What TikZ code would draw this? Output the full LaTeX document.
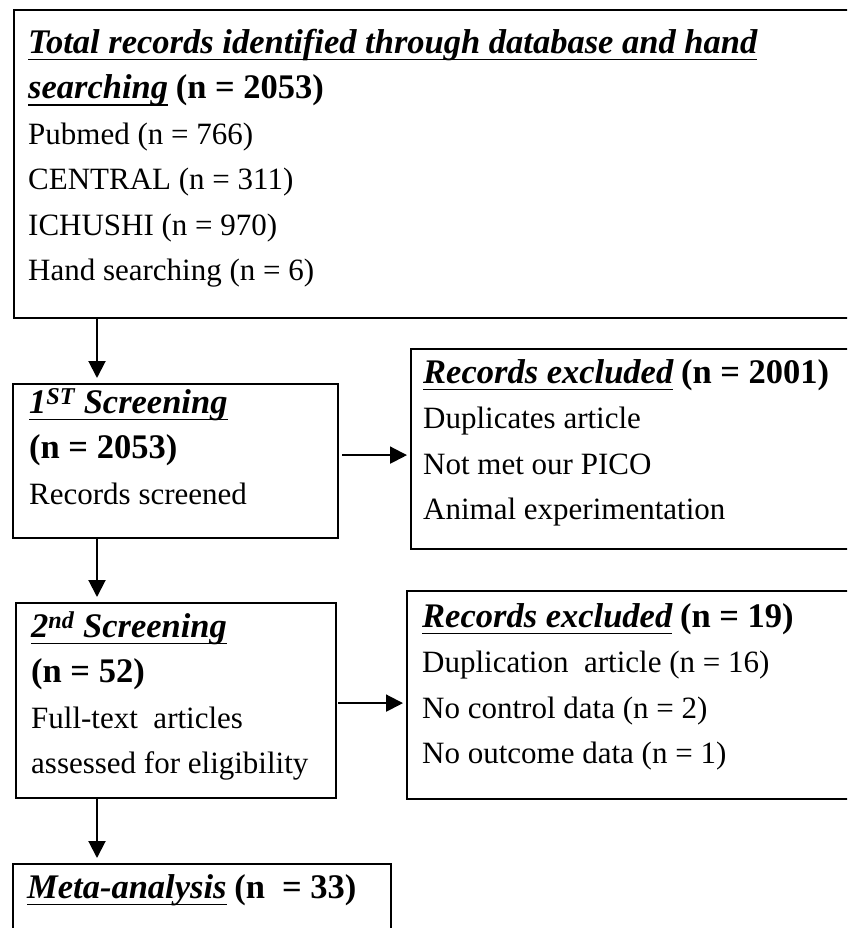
\documentclass[tikz,border=0pt]{standalone}
\usepackage{fontspec}
\setmainfont{Liberation Serif}
\usetikzlibrary{calc,arrows.meta}

\newcommand{\boxfont}{\fontsize{31}{45.5}\selectfont}
\newcommand{\headfont}{\fontsize{34.5}{45.5}\selectfont}
\newsavebox{\ulbox}
\newcommand{\ttl}[1]{\sbox{\ulbox}{\headfont\bfseries\itshape #1}%
    \rlap{\rule[-7.4pt]{\wd\ulbox}{1.9pt}}\usebox{\ulbox}}
\newcommand{\cnt}[1]{{\headfont\bfseries #1}}

\begin{document}
\begin{tikzpicture}[x=1pt,y=-1pt,
    box/.style={draw, line width=2.2pt, anchor=north west, inner sep=0pt},
    txt/.style={anchor=north west, inner sep=0pt, align=left, font=\boxfont},
    arr/.style={line width=2pt, -{Triangle[length=17pt,width=17pt]}}]
    \useasboundingbox (0,0) rectangle (847,928);
    \clip (0,0) rectangle (847,928);
    % boxes
    \node[box, minimum width=880pt, minimum height=308pt] (ident) at (13,9) {};
    \node[box, minimum width=325pt, minimum height=154pt] (scr1) at (12,383) {};
    \node[box, minimum width=470pt, minimum height=200pt] (excl1) at (410,348) {};
    \node[box, minimum width=320pt, minimum height=195pt] (scr2) at (15,602) {};
    \node[box, minimum width=474pt, minimum height=208pt] (excl2) at (406,590) {};
    \node[box, minimum width=378pt, minimum height=100pt] (meta) at (12,863) {};
    % texts
    \node[txt] (identtxt) at (28,21) {\strut\ttl{Total records identified through database and hand}\\
        \ttl{searching} \cnt{(n = 2053)}\\
        Pubmed (n = 766)\\
        CENTRAL (n = 311)\\
        ICHUSHI (n = 970)\\
        Hand searching (n = 6)};
    \node[txt] (scr1txt) at (29,381) {\strut\ttl{1\textsuperscript{ST} Screening}\\
        \cnt{(n = 2053)}\\
        Records screened};
    \node[txt] (excl1txt) at (423,351) {\strut\ttl{Records excluded} \cnt{(n = 2001)}\\
        Duplicates article\\
        Not met our PICO\\
        Animal experimentation};
    \node[txt] (scr2txt) at (31,605) {\strut\ttl{2\textsuperscript{nd} Screening}\\
        \cnt{(n = 52)}\\
        Full-text\ \ articles\\
        assessed for eligibility};
    \node[txt] (excl2txt) at (422,595) {\strut\ttl{Records excluded} \cnt{(n = 19)}\\
        Duplication\ \ article (n = 16)\\
        No control data (n = 2)\\
        No outcome data (n = 1)};
    \node[txt] (metatxt) at (27,866) {\strut\ttl{Meta-analysis} \cnt{(n\ \ = 33)}};
    % arrows
    \coordinate (ax) at (97,0);
    \draw[arr, shorten >=5pt] (ident.south -| ax) -- (scr1.north -| ax);
    \draw[arr, shorten >=5pt] (scr1.south -| ax) -- (scr2.north -| ax);
    \draw[arr, shorten >=5pt] (scr2.south -| ax) -- (meta.north -| ax);
    \draw[arr, shorten <=3pt, shorten >=3pt] ([yshift=6pt]scr1.east) -- ([yshift=6pt]scr1.east -| excl1.west);
    \draw[arr, shorten <=1pt, shorten >=3pt] ([yshift=-2.5pt]scr2.east) -- ([yshift=-2.5pt]scr2.east -| excl2.west);
\end{tikzpicture}
\end{document}
